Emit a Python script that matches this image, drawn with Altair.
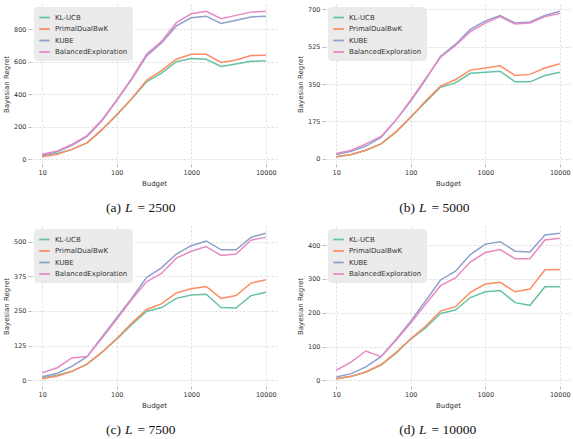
import altair as alt
import pandas as pd

budget = [10, 16, 25, 40, 63, 100, 158, 251, 398, 631, 1000, 1585, 2512, 3981, 6310, 10000]
algorithms = ["KL-UCB", "PrimalDualBwK", "KUBE", "BalancedExploration"]
colors = ["#66c2a5", "#fc8d62", "#8da0cb", "#e78ac3"]

# Panel (a) L = 2500
a_kl = [20, 35, 60, 100, 180, 270, 370, 475, 530, 600, 620, 615, 570, 585, 602, 605]
a_pd = [15, 30, 60, 100, 180, 275, 370, 485, 545, 615, 645, 645, 595, 610, 638, 640]
a_ku = [25, 45, 85, 140, 235, 360, 490, 635, 715, 820, 870, 880, 835, 855, 875, 880]
a_be = [30, 50, 90, 145, 240, 365, 495, 645, 725, 840, 895, 910, 865, 885, 905, 910]
# Panel (b) L = 5000
b_kl = [10, 20, 40, 70, 125, 195, 265, 335, 355, 400, 405, 410, 360, 360, 390, 405]
b_pd = [10, 20, 40, 70, 125, 195, 270, 340, 370, 415, 425, 435, 390, 395, 425, 445]
b_ku = [20, 35, 60, 100, 180, 270, 370, 480, 535, 605, 645, 670, 635, 640, 670, 690]
b_be = [25, 40, 70, 105, 180, 275, 375, 475, 530, 595, 635, 665, 630, 635, 665, 680]
# Panel (c) L = 7500
c_kl = [8, 18, 32, 58, 100, 148, 200, 248, 262, 295, 307, 310, 262, 260, 305, 317]
c_pd = [5, 15, 32, 58, 100, 150, 205, 255, 275, 315, 330, 338, 295, 305, 350, 362]
c_ku = [12, 25, 50, 85, 155, 225, 295, 370, 405, 455, 485, 502, 470, 470, 515, 530]
c_be = [27, 45, 80, 85, 150, 220, 290, 355, 385, 440, 465, 482, 450, 455, 505, 515]
# Panel (d) L = 10000
d_kl = [5, 12, 25, 45, 80, 122, 155, 198, 208, 245, 262, 266, 230, 222, 277, 277]
d_pd = [5, 12, 25, 47, 82, 123, 160, 205, 218, 260, 285, 290, 262, 270, 327, 328]
d_ku = [10, 20, 40, 70, 120, 175, 235, 297, 323, 372, 403, 410, 382, 380, 430, 435]
d_be = [30, 55, 87, 70, 118, 170, 225, 280, 303, 350, 378, 387, 360, 360, 415, 420]

letters = ["(a)", "(b)", "(c)", "(d)"]
l_values = ["2500", "5000", "7500", "10000"]
y_ticks = [[0, 200, 400, 600, 800], [0, 175, 350, 525, 700],
           [0, 125, 250, 375, 500], [0, 100, 200, 300, 400]]
y_domains = [[-30, 955], [-24, 724], [-21, 556], [-16.5, 456.5]]
x_ticks = [10, 100, 1000, 10000]

W, H = 246, 160


def panel(series, letter, lval, ydom, yticks):
    rows = []
    for alg, vals in zip(algorithms, series):
        for b, v in zip(budget, vals):
            rows.append({"Budget": b, "Regret": v, "Algorithm": alg})
    df = pd.DataFrame(rows)
    lines = alt.Chart(df).mark_line(strokeWidth=1.5).encode(
        x=alt.X("Budget:Q",
                scale=alt.Scale(type="log", domain=[7.08, 14125], nice=False),
                axis=alt.Axis(values=x_ticks, format="d", title="Budget")),
        y=alt.Y("Regret:Q",
                scale=alt.Scale(domain=ydom, nice=False, zero=False),
                axis=alt.Axis(values=yticks, title="Bayesian Regret")),
        color=alt.Color("Algorithm:N",
                        scale=alt.Scale(domain=algorithms, range=colors),
                        legend=alt.Legend(title=None, orient="top-left")),
    )
    cap = pd.DataFrame({"letter": [letter], "eq": ["= " + lval], "L": ["L"]})
    base = alt.Chart(cap)
    t1 = base.mark_text(font="Liberation Serif", fontSize=13.5, align="right",
                        baseline="middle", color="#111").encode(
        text="letter:N", x=alt.value(90), y=alt.value(204))
    t2 = base.mark_text(font="Liberation Serif", fontSize=13.5, fontStyle="italic",
                        align="left", baseline="middle", color="#111").encode(
        text="L:N", x=alt.value(94), y=alt.value(204))
    t3 = base.mark_text(font="Liberation Serif", fontSize=13.5, align="left",
                        baseline="middle", color="#111").encode(
        text="eq:N", x=alt.value(106.5), y=alt.value(204))
    return alt.layer(lines, t1, t2, t3).properties(width=W, height=H)


pa = panel([a_kl, a_pd, a_ku, a_be], letters[0], l_values[0], y_domains[0], y_ticks[0])
pb = panel([b_kl, b_pd, b_ku, b_be], letters[1], l_values[1], y_domains[1], y_ticks[1])
pc = panel([c_kl, c_pd, c_ku, c_be], letters[2], l_values[2], y_domains[2], y_ticks[2])
pd_ = panel([d_kl, d_pd, d_ku, d_be], letters[3], l_values[3], y_domains[3], y_ticks[3])

chart = alt.concat(pa, pb, pc, pd_, columns=2, spacing={"row": 62, "column": 48},
                   bounds="flush").resolve_scale(
    x="independent", y="independent").resolve_legend(color="independent").properties(
    padding={"left": 2, "top": 4, "right": 0, "bottom": 0},
    background="white",
).configure_view(stroke=None).configure_axis(
    domain=False,
    grid=True,
    gridColor="#cccccc",
    gridDash=[2, 2],
    gridWidth=0.7,
    tickColor="#999999",
    tickSize=3,
    tickWidth=0.7,
    labelFont="DejaVu Sans",
    labelFontSize=6.5,
    labelColor="#333333",
    labelPadding=2,
    titleFont="DejaVu Sans",
    titleFontSize=7,
    titleFontWeight="normal",
    titleColor="#333333",
    titlePadding=4,
).configure_legend(
    fillColor="#ebebeb",
    strokeColor="#ebebeb",
    cornerRadius=3,
    padding=4,
    offset=3,
    labelFont="DejaVu Sans",
    labelFontSize=7,
    labelColor="#333333",
    labelLimit=200,
    symbolType="stroke",
    symbolSize=110,
    symbolStrokeWidth=1.8,
    rowPadding=0.5,
)

chart.save("out.html", embed_options={"renderer": "svg", "actions": False})
